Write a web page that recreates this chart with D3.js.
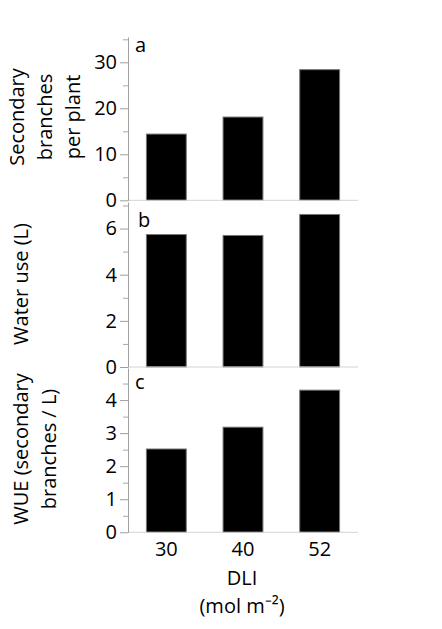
<!DOCTYPE html>
<html><head><meta charset="utf-8">
<script src="https://cdn.jsdelivr.net/npm/d3@7"></script>
<style>body{margin:0;background:#fff}svg{display:block}text{font-family:"Open Sans",sans-serif;fill:#000}</style>
</head><body><svg id="c" width="442" height="629"></svg>
<script>
const categories = ["30","40","52"];
const branches = [14.4, 18.1, 28.4];
const waterUse = [5.74, 5.70, 6.61];
const wue = [2.52, 3.18, 4.30];
const branchTicks = [0,10,20,30];
const waterTicks = [0,2,4,6];
const wueTicks = [0,1,2,3,4];
const xTitle = ["DLI","(mol m⁻²)"];

const svg = d3.select("#c");
const fs = 20;
const x = d3.scaleBand().domain(categories).range([128,358]).paddingInner(0.48).paddingOuter(0.24);

const panels = [
  {vals:branches, max:35.5, ticks:branchTicks, minor:[5,15,25,35], top:37, bot:200.3, letter:"a", lx:135, ly:51.5,
   title:["Secondary","branches","per plant"], tx:[24,52,80], tcy:117},
  {vals:waterUse, max:7.15, ticks:waterTicks, minor:[1,3,5,7], top:202, bot:367, letter:"b", lx:138, ly:226.5,
   title:["Water use (L)"], tx:[28], tcy:284},
  {vals:wue, max:4.97, ticks:wueTicks, minor:[0.5,1.5,2.5,3.5,4.5], top:368, bot:532.3, letter:"c", lx:135, ly:389,
   title:["WUE (secondary","branches / L)"], tx:[28,56], tcy:449}
];

panels.forEach((p,i)=>{
  const y = d3.scaleLinear().domain([0,p.max]).range([p.bot,p.top]);
  const g = svg.append("g");
  g.selectAll("rect").data(p.vals).join("rect")
    .attr("x",(d,j)=>x(categories[j])).attr("width",x.bandwidth())
    .attr("y",d=>y(d)).attr("height",d=>y(0)-y(d))
    .attr("fill","#000").attr("stroke","#777").attr("stroke-width",1);
  g.append("line").attr("x1",128).attr("x2",358).attr("y1",y(0)).attr("y2",y(0))
    .attr("stroke","#d4d4d4").attr("stroke-width",1);
  const minorAxis = d3.axisLeft(y).tickValues(p.minor).tickSize(5).tickFormat("");
  const ma = g.append("g").attr("transform","translate(128,0)").call(minorAxis);
  ma.select(".domain").remove();
  ma.selectAll("line").attr("stroke","#a8a8a8");
  const ax = g.append("g").attr("transform","translate(128,0)")
    .call(d3.axisLeft(y).tickValues(p.ticks).tickSize(8).tickPadding(3).tickSizeOuter(0).tickFormat(d3.format("d")));
  ax.select(".domain").attr("stroke","#a0a0a0");
  ax.selectAll(".tick line").attr("stroke","#a0a0a0");
  ax.selectAll("text").attr("font-size",fs).attr("font-family","'Open Sans',sans-serif").attr("fill","#000");
  g.append("text").attr("x",p.lx).attr("y",p.ly).attr("font-size",fs).text(p.letter);
  p.title.forEach((t,k)=>{
    g.append("text").attr("transform",`translate(${p.tx[k]},${p.tcy}) rotate(-90)`)
      .attr("text-anchor","middle").attr("font-size",fs).text(t);
  });
  if(i===2){
    const xa = g.append("g").attr("transform",`translate(0,${p.bot})`)
      .call(d3.axisBottom(x).tickSize(0).tickPadding(10));
    xa.select(".domain").remove();
    xa.selectAll("text").attr("font-size",fs).attr("font-family","'Open Sans',sans-serif").attr("fill","#000");
  }
});
svg.append("text").attr("x",242).attr("y",585).attr("text-anchor","middle").attr("font-size",fs).text(xTitle[0]);
svg.append("text").attr("x",242).attr("y",613).attr("text-anchor","middle").attr("font-size",fs).text(xTitle[1]);
</script></body></html>
